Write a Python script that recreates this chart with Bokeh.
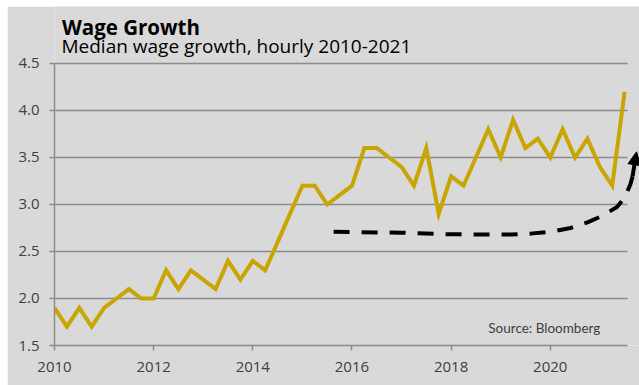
import numpy as np
from bokeh.plotting import figure
from bokeh.models import (FixedTicker, PrintfTickFormatter, Label, Arrow,
                          NormalHead, Range1d)
from bokeh.embed import file_html
from bokeh.resources import INLINE

# ---- data -------------------------------------------------------------
# quarterly observations, 2010 Q1 .. 2021 Q3 (fractional years)
quarters = [2010 + 0.25 * i for i in range(47)]
wage_growth = [1.9, 1.7, 1.9, 1.7, 1.9, 2.0, 2.1, 2.0,
               2.0, 2.3, 2.1, 2.3, 2.2, 2.1, 2.4, 2.2,
               2.4, 2.3, 2.6, 2.9, 3.2, 3.2, 3.0, 3.1,
               3.2, 3.6, 3.6, 3.5, 3.4, 3.2, 3.6, 2.9,
               3.3, 3.2, 3.5, 3.8, 3.5, 3.9, 3.6, 3.7,
               3.5, 3.8, 3.5, 3.7, 3.4, 3.2, 4.2]

x_ticks = [2010, 2012, 2014, 2016, 2018, 2020]
y_ticks = [1.5, 2.0, 2.5, 3.0, 3.5, 4.0, 4.5]
grid_levels = [2.0, 2.5, 3.0, 3.5, 4.0, 4.5]

# hand-drawn trend annotation (dashed curve with arrow)
trend_x = [2015.63, 2016.17, 2016.98, 2017.79, 2018.59, 2019.20, 2019.60,
           2020.00, 2020.41, 2020.75, 2021.01, 2021.34, 2021.50, 2021.62, 2021.66]
trend_y = [2.71, 2.705, 2.70, 2.685, 2.68, 2.68, 2.69,
           2.71, 2.75, 2.81, 2.87, 2.97, 3.07, 3.22, 3.30]
arrow_tip_x = 2021.74
arrow_tip_y = 3.56

title_text = "Wage Growth"
subtitle_text = "Median wage growth, hourly 2010-2021"
source_text = "Source:  Bloomberg"

x_start, x_axis_end, x_frame_end = 2010, 2021.56, 2021.80
y_start, y_axis_end, y_frame_end = 1.5, 4.5, 5.106

GOLD = "#C9A500"
BG = "#D9D9D9"
GRID = "#8C8C8C"
TXT = "#404040"

p = figure(width=632, height=379,
           x_range=Range1d(x_start, x_frame_end),
           y_range=Range1d(y_start, y_frame_end),
           output_backend="svg", toolbar_location=None, title=None,
           min_border_left=47, min_border_right=0, min_border_top=0,
           min_border_bottom=40,
           background_fill_color=BG, border_fill_color=BG,
           outline_line_color=None, margin=(6, 0, 0, 7))

p.xgrid.visible = False
p.ygrid.visible = False

# horizontal gridlines, ending where the x axis ends
p.segment(x0=[x_start] * len(grid_levels), x1=[x_axis_end] * len(grid_levels),
          y0=grid_levels, y1=grid_levels, line_color=GRID, line_width=1.5)

# axes
for ax in (p.xaxis[0], p.yaxis[0]):
    ax.axis_line_color = GRID
    ax.axis_line_width = 1.5
    ax.major_tick_line_color = GRID
    ax.major_tick_line_width = 1.5
    ax.major_tick_out = 5
    ax.major_tick_in = 0
    ax.minor_tick_line_color = None
    ax.major_label_text_font = "Open Sans"
    ax.major_label_text_font_size = "15px"
    ax.major_label_text_color = TXT

p.xaxis.ticker = FixedTicker(ticks=x_ticks)
p.xaxis.formatter = PrintfTickFormatter(format="%d")
p.xaxis.bounds = (x_start, x_axis_end)
p.xaxis.major_label_standoff = 11

p.yaxis.ticker = FixedTicker(ticks=y_ticks)
p.yaxis.formatter = PrintfTickFormatter(format="%.1f")
p.yaxis.bounds = (y_start, y_axis_end)
p.yaxis.major_label_standoff = 10

# data line
p.line(quarters, wage_growth, line_color=GOLD, line_width=4, line_join="miter")

# dashed trend + arrow head
p.line(trend_x, trend_y, line_color="black", line_width=4, line_dash="16 12")
p.add_layout(Arrow(end=NormalHead(size=13, fill_color="black", line_color="black"),
                   x_start=trend_x[-1], y_start=trend_y[-1],
                   x_end=arrow_tip_x, y_end=arrow_tip_y,
                   line_color="black", line_width=4))

# source note
p.add_layout(Label(x=2018.75, y=1.681, text=source_text,
                   text_font="Lato", text_font_size="13.5px", text_color=TXT,
                   text_baseline="alphabetic"))

# titles (inside the extended frame, above the top gridline)
p.add_layout(Label(x=2010.151, y=4.883, text=title_text,
                   text_font="Open Sans", text_font_size="20.5px",
                   text_font_style="bold", text_color="black",
                   text_baseline="alphabetic"))
p.add_layout(Label(x=2010.141, y=4.686, text=subtitle_text,
                   text_font="Open Sans", text_font_size="19px",
                   text_color="black", text_baseline="alphabetic"))

open("out.html", "w").write(file_html(p, INLINE))
